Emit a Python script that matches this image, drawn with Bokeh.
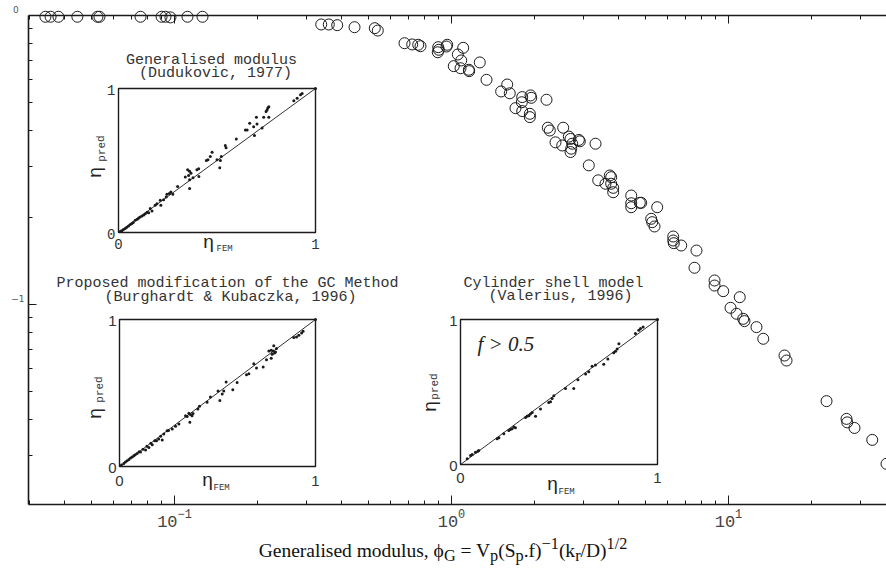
from bokeh.plotting import figure
from bokeh.models import Range1d, LinearScale, LogAxis, FixedTicker, Div
from bokeh.layouts import column
from bokeh.core.properties import value
from bokeh.embed import file_html
from bokeh.resources import INLINE

# ---------------------------------------------------------------------------
# Main data: effectiveness factor vs generalised modulus (open circles)
# ---------------------------------------------------------------------------
phi_g = [
    0.0342, 0.0357, 0.0381, 0.0446, 0.0527, 0.0536, 0.0754, 0.0898, 0.0928, 0.0967, 0.1114, 0.1262,
    0.3386, 0.3606, 0.3867, 0.4466, 0.5286, 0.5419, 0.6767, 0.7214, 0.7584, 0.7730, 0.8953, 0.8999,
    0.8923, 0.9649, 0.9593,
    1.102, 1.054, 1.084, 1.019, 1.078, 1.155, 1.158, 1.265, 1.338, 1.589, 1.511, 1.623, 1.800, 1.929,
    1.940, 1.794, 1.702, 1.800, 1.918, 1.918, 2.203, 2.227, 2.264, 2.531, 2.374, 2.510, 2.652, 2.689,
    2.727, 2.705, 2.689, 2.882, 2.906, 3.311, 3.131, 3.386,
    3.728, 3.771, 3.597, 3.771, 3.835, 3.835, 4.455, 4.455, 4.455, 4.784, 4.840, 5.528, 5.259, 5.303,
    5.406, 6.316, 6.316, 6.347, 6.750, 7.664, 7.538, 8.905, 8.905, 9.570, 10.98, 10.17, 10.69, 11.30,
    11.42, 12.62, 13.35, 15.93, 16.20, 22.59, 26.67, 26.83, 28.50, 33.03, 37.19,
]
eta = [
    0.99, 0.99, 0.99, 0.99, 0.99, 0.99, 0.99, 0.99, 0.99, 0.985, 0.99, 0.99,
    0.931, 0.931, 0.926, 0.911, 0.904, 0.887, 0.802, 0.794, 0.792, 0.783, 0.777, 0.761,
    0.746, 0.792, 0.781,
    0.773, 0.733, 0.699, 0.668, 0.657, 0.649, 0.642, 0.688, 0.599, 0.577, 0.546, 0.538, 0.522, 0.529,
    0.519, 0.501, 0.478, 0.467, 0.457, 0.445, 0.511, 0.409, 0.400, 0.409, 0.364, 0.355, 0.381, 0.374,
    0.360, 0.346, 0.337, 0.371, 0.367, 0.360, 0.303, 0.269,
    0.2795, 0.2758, 0.2617, 0.2617, 0.2533, 0.2446, 0.2383, 0.2241, 0.2171, 0.2248, 0.2248, 0.2171,
    0.1979, 0.1927, 0.1862, 0.1719, 0.1665, 0.1630, 0.1600, 0.1537, 0.1340, 0.1211, 0.1163, 0.1112,
    0.1060, 0.0974, 0.0929, 0.0892, 0.0876, 0.0835, 0.0761, 0.0666, 0.0640, 0.0463, 0.0402, 0.0391,
    0.0374, 0.0340, 0.0281,
]

# ---------------------------------------------------------------------------
# Parity-plot data for the three approximations (eta_FEM, eta_pred)
# ---------------------------------------------------------------------------
dud_fem = [0.010, 0.017, 0.025, 0.034, 0.042, 0.051, 0.060, 0.068, 0.075, 0.085, 0.095, 0.102, 0.110,
           0.119, 0.128, 0.136, 0.145, 0.153, 0.161, 0.170, 0.186, 0.195, 0.212, 0.215, 0.229, 0.242,
           0.246, 0.258, 0.266, 0.276, 0.300, 0.339, 0.351, 0.356, 0.361, 0.361, 0.361, 0.368, 0.378,
           0.398, 0.407, 0.408, 0.446, 0.454, 0.466, 0.475, 0.500, 0.514, 0.517, 0.522, 0.542, 0.546,
           0.598, 0.644, 0.653, 0.666, 0.686, 0.690, 0.700, 0.703, 0.729, 0.737, 0.749, 0.754, 0.758,
           0.763, 0.763, 0.890, 0.907, 0.924, 0.932, 1.000]
dud_pred = [0.008, 0.012, 0.020, 0.028, 0.036, 0.046, 0.055, 0.062, 0.070, 0.085, 0.092, 0.101, 0.108,
            0.115, 0.122, 0.131, 0.140, 0.138, 0.166, 0.150, 0.189, 0.200, 0.224, 0.189, 0.228, 0.247,
            0.265, 0.270, 0.281, 0.265, 0.320, 0.385, 0.435, 0.396, 0.426, 0.366, 0.306, 0.412, 0.380,
            0.435, 0.442, 0.389, 0.500, 0.505, 0.528, 0.558, 0.505, 0.449, 0.500, 0.528, 0.604, 0.588,
            0.650, 0.712, 0.712, 0.758, 0.735, 0.673, 0.800, 0.753, 0.726, 0.800, 0.841, 0.850, 0.864,
            0.873, 0.800, 0.915, 0.933, 0.956, 0.965, 1.000]

bk_fem = [0.010, 0.022, 0.030, 0.039, 0.048, 0.056, 0.065, 0.073, 0.080, 0.090, 0.100, 0.107, 0.120,
          0.133, 0.140, 0.150, 0.160, 0.167, 0.180, 0.189, 0.200, 0.210, 0.218, 0.226, 0.243, 0.250,
          0.269, 0.286, 0.303, 0.337, 0.345, 0.354, 0.359, 0.362, 0.370, 0.375, 0.400, 0.408, 0.447,
          0.464, 0.503, 0.512, 0.524, 0.532, 0.544, 0.578, 0.600, 0.648, 0.660, 0.685, 0.699, 0.733,
          0.750, 0.762, 0.774, 0.774, 0.779, 0.784, 0.787, 0.791, 0.796, 0.801, 0.889, 0.903, 0.915,
          0.929, 0.937, 1.000]
bk_pred = [0.010, 0.020, 0.030, 0.039, 0.047, 0.057, 0.064, 0.073, 0.080, 0.089, 0.100, 0.098, 0.118,
           0.112, 0.138, 0.130, 0.158, 0.148, 0.176, 0.175, 0.187, 0.205, 0.180, 0.221, 0.244, 0.245,
           0.255, 0.273, 0.289, 0.346, 0.340, 0.362, 0.301, 0.353, 0.345, 0.360, 0.392, 0.410, 0.437,
           0.472, 0.513, 0.449, 0.494, 0.513, 0.574, 0.522, 0.572, 0.624, 0.631, 0.699, 0.670, 0.677,
           0.727, 0.786, 0.790, 0.736, 0.763, 0.786, 0.822, 0.772, 0.779, 0.802, 0.877, 0.881, 0.893,
           0.909, 0.920, 1.000]

val_fem = [0.034, 0.051, 0.059, 0.076, 0.088, 0.093, 0.186, 0.195, 0.220, 0.245, 0.254, 0.262, 0.271,
           0.279, 0.330, 0.338, 0.347, 0.355, 0.364, 0.381, 0.406, 0.448, 0.457, 0.465, 0.474, 0.533,
           0.575, 0.596, 0.635, 0.651, 0.668, 0.685, 0.727, 0.748, 0.778, 0.787, 0.795, 0.804, 0.888,
           0.905, 0.914, 0.927, 1.000]
val_pred = [0.039, 0.062, 0.069, 0.085, 0.092, 0.097, 0.177, 0.184, 0.212, 0.235, 0.242, 0.247, 0.258,
            0.253, 0.325, 0.332, 0.336, 0.348, 0.359, 0.332, 0.382, 0.428, 0.433, 0.456, 0.475, 0.525,
            0.525, 0.585, 0.624, 0.640, 0.677, 0.686, 0.691, 0.728, 0.770, 0.781, 0.797, 0.833, 0.903,
            0.926, 0.938, 0.949, 1.000]

# Tick values
x_major = [0.1, 1.0, 10.0]
x_minor = [m * 10.0 ** e for e in (-2, -1, 0, 1) for m in range(2, 10)]
y_major = [0.1, 1.0]
y_minor = [m * 10.0 ** e for e in (-2, -1) for m in range(2, 10)]
unit = [0.0, 1.0]

# ---------------------------------------------------------------------------
# Layout geometry (pixels)
# ---------------------------------------------------------------------------
W, H = 886, 535
FL, FR, FT, FB = 28, 886, 8, 504          # plot frame
X_DEC, Y_DEC = 277.0, 289.0               # pixels per decade
X_ONE, Y_ONE = 451.0, 15.0                # pixel of phi=1 and eta=1

x_lo = 10 ** ((FL - X_ONE) / X_DEC)
x_hi = 10 ** ((FR - X_ONE) / X_DEC)
y_lo = 10 ** (-(FB - Y_ONE) / Y_DEC)
y_hi = 10 ** ((Y_ONE - FT) / Y_DEC)

INK = "#1a1a1a"

p = figure(width=W, height=H, x_axis_type="log", y_axis_type="log",
           x_range=Range1d(x_lo, x_hi), y_range=Range1d(y_lo, y_hi),
           min_border_left=FL, min_border_right=0, min_border_top=FT,
           min_border_bottom=H - FB, toolbar_location=None,
           output_backend="svg")
p.outline_line_color = None
p.grid.visible = False
p.background_fill_color = "white"
p.border_fill_color = "white"

xticker = FixedTicker(ticks=x_major, minor_ticks=x_minor)
yticker = FixedTicker(ticks=y_major, minor_ticks=y_minor)

xa = p.xaxis[0]
xa.ticker = xticker
xa.axis_line_width = 1.6
xa.axis_line_color = INK
xa.major_tick_in, xa.major_tick_out = 9, 0
xa.minor_tick_in, xa.minor_tick_out = 4, 0
xa.major_tick_line_color = INK
xa.minor_tick_line_color = INK
xa.major_label_standoff = 4
xa.major_label_text_font = "Liberation Mono"
xa.major_label_text_font_size = "17px"
xa.major_label_text_color = "#444444"

ya = p.yaxis[0]
ya.ticker = yticker
ya.bounds = (y_lo, 1.0)
ya.axis_line_width = 1.6
ya.axis_line_color = INK
ya.major_tick_in, ya.major_tick_out = 8, 0
ya.minor_tick_in, ya.minor_tick_out = 4, 0
ya.major_tick_line_color = INK
ya.minor_tick_line_color = INK
ya.major_label_standoff = 4
# exponent-only labels, raised a little above their ticks
ya.major_label_overrides = {1.0: "0\u2007\n ", 0.1: "\u22121\n "}
ya.major_label_text_font = "DejaVu Sans"
ya.major_label_text_font_size = "9px"
ya.major_label_text_color = "#555555"

# top border with inward ticks, pinned at eta = 1
top = LogAxis(ticker=xticker, fixed_location=1.0,
              axis_line_width=1.6, axis_line_color=INK,
              major_tick_in=8, major_tick_out=0, minor_tick_in=4, minor_tick_out=0,
              major_tick_line_color=INK, minor_tick_line_color=INK,
              major_label_standoff=0, major_label_text_font_size="1px",
              major_label_text_alpha=0.0)
p.add_layout(top, "above")

# Main scatter of open circles
p.scatter(phi_g, eta, marker="circle", size=11, fill_color=None,
          line_color=INK, line_width=1)

# ---------------------------------------------------------------------------
# Inset parity plots, each on its own linear ranges placed inside the frame
# ---------------------------------------------------------------------------
def add_inset(name, box):
    L, R, T, B = box
    w, h = R - L, B - T
    xs = -(L - FL) / w
    ys = -(FB - B) / h
    p.extra_x_ranges[name] = Range1d(xs, xs + (FR - FL) / w)
    p.extra_y_ranges[name] = Range1d(ys, ys + (FB - FT) / h)
    p.extra_x_scales[name] = LinearScale()
    p.extra_y_scales[name] = LinearScale()

    def at(sx, sy):
        return (sx - L) / w, (B - sy) / h
    return at


def texts(name, items, font, size, color="#333333", angle=0.0, align="center",
          style="normal"):
    xs, ys, ts = [], [], []
    for (x, y), t in items:
        xs.append(x)
        ys.append(y)
        ts.append(t)
    p.text(xs, ys, text=ts, x_range_name=name, y_range_name=name,
           text_font=value(font), text_font_size=size, text_color=color,
           text_align=align, text_baseline="middle", angle=angle,
           text_font_style=style)


insets = [
    dict(name="dud", box=(118, 315, 88, 232), fem=dud_fem, pred=dud_pred,
         title=[((211, 60), "Generalised modulus"), ((215, 73), "(Dudukovic, 1977)")],
         tick_font="Liberation Mono", tick_size="14px", bottom_dy=11,
         eta_fem=(208, 241), fem_sub=(216, 248),
         eta_pred=(94, 172), pred_sub=(101, 148)),
    dict(name="bk", box=(119, 315, 319, 466), fem=bk_fem, pred=bk_pred,
         title=[((227, 283), "Proposed modification of the GC Method"),
                ((230, 297), "(Burghardt & Kubaczka, 1996)")],
         tick_font="Liberation Sans", tick_size="15px", bottom_dy=14,
         eta_fem=(207, 479), fem_sub=(213, 487),
         eta_pred=(94, 413), pred_sub=(99, 389)),
    dict(name="val", box=(460, 657, 319, 464), fem=val_fem, pred=val_pred,
         title=[((553, 283), "Cylinder shell model"), ((560, 296), "(Valerius, 1996)")],
         tick_font="Liberation Sans", tick_size="15px", bottom_dy=13,
         eta_fem=(552, 483), fem_sub=(558, 491),
         eta_pred=(429, 406), pred_sub=(434, 386)),
]

for ins in insets:
    name = ins["name"]
    L, R, T, B = ins["box"]
    at = add_inset(name, ins["box"])
    kw = dict(x_range_name=name, y_range_name=name)

    p.quad(left=unit[0], right=unit[1], bottom=unit[0], top=unit[1],
           fill_color=None, line_color=INK, line_width=1.4, **kw)
    p.line(unit, unit, line_color=INK, line_width=0.9, **kw)
    p.scatter(ins["fem"], ins["pred"], marker="circle", size=3,
              fill_color=INK, line_color=None, **kw)

    # titles
    texts(name, [(at(*xy), t) for xy, t in ins["title"]],
          "Liberation Mono", "15px", color="#333333")
    # tick labels
    texts(name, [(at(L - 3, T + 1), "1"), (at(L - 3, B + 1), "0")],
          ins["tick_font"], ins["tick_size"], color="#333333", align="right")
    texts(name, [(at(L, B + ins["bottom_dy"]), "0"), (at(R, B + ins["bottom_dy"]), "1")],
          ins["tick_font"], ins["tick_size"], color="#333333")
    # axis titles
    texts(name, [(at(*ins["eta_fem"]), "\u03b7")], "Liberation Sans", "19px", color="#222222")
    texts(name, [(at(*ins["fem_sub"]), "FEM")], "Liberation Mono", "9px",
          color="#333333", align="left")
    texts(name, [(at(*ins["eta_pred"]), "\u03b7")], "Liberation Sans", "19px",
          color="#222222", angle=1.5708)
    texts(name, [(at(*ins["pred_sub"]), "pred")], "Liberation Mono", "11px",
          color="#333333", angle=1.5708)

    if name == "val":
        texts(name, [(at(477, 343), "f > 0.5")], "Liberation Serif", "21px",
              color="#222222", align="left", style="italic")

# x-axis title with sub/superscripts
xlabel = Div(
    text=("<div style=\"width:886px;text-align:center;font-family:'Liberation Serif';"
          "font-size:19.5px;color:#111;line-height:18px;padding-top:0px\">"
          "Generalised modulus, &#981;<sub>G</sub> = V<sub>p</sub>(S<sub>p</sub>.f)"
          "<sup>&minus;1</sup>(k<sub>r</sub>/D)<sup>1/2</sup></div>"),
    width=W, height=573 - H, margin=(0, 0, 0, 0))

layout = column(p, xlabel, spacing=0)

open("out.html", "w").write(file_html(layout, INLINE))
